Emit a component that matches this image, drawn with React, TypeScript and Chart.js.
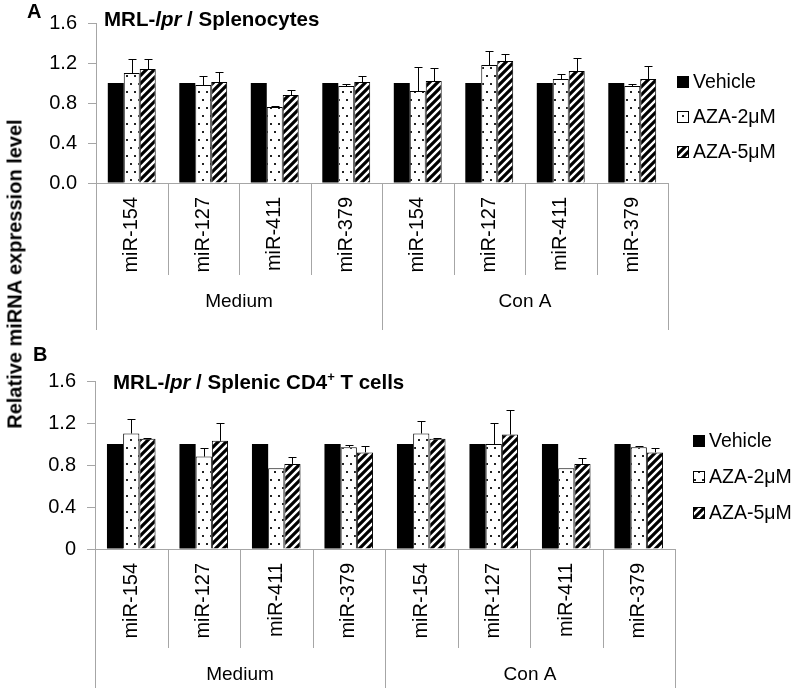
import React, { useEffect, useRef } from "react";
import { Chart, registerables } from "chart.js";

Chart.register(...registerables);

const FONT = '"Liberation Sans", Arial, sans-serif';

// ---------- data ----------
const categories = ["miR-154", "miR-127", "miR-411", "miR-379", "miR-154", "miR-127", "miR-411", "miR-379"];
const groups = ["Medium", "Con A"];
const seriesNames = ["Vehicle", "AZA-2μM", "AZA-5μM"];

// Panel A: MRL-lpr / Splenocytes
const vehicleA = [1, 1, 1, 1, 1, 1, 1, 1];
const aza2A = [1.10, 0.98, 0.76, 0.97, 0.92, 1.18, 1.04, 0.97];
const aza2ErrA = [0.14, 0.09, 0.01, 0.02, 0.24, 0.14, 0.05, 0.02];
const aza5A = [1.14, 1.01, 0.88, 1.01, 1.02, 1.22, 1.12, 1.04];
const aza5ErrA = [0.10, 0.10, 0.05, 0.06, 0.13, 0.07, 0.13, 0.13];
const yTicksA = ["0.0", "0.4", "0.8", "1.2", "1.6"];

// Panel B: MRL-lpr / Splenic CD4+ T cells
const vehicleB = [1, 1, 1, 1, 1, 1, 1, 1];
const aza2B = [1.10, 0.88, 0.77, 0.97, 1.10, 1.00, 0.77, 0.97];
const aza2ErrB = [0.14, 0.08, 0, 0.02, 0.12, 0.20, 0, 0.015];
const aza5B = [1.05, 1.03, 0.81, 0.92, 1.05, 1.09, 0.81, 0.92];
const aza5ErrB = [0.01, 0.17, 0.07, 0.06, 0.01, 0.23, 0.06, 0.04];
const yTicksB = ["0", "0.4", "0.8", "1.2", "1.6"];

const yMax = 1.6;
const yStep = 0.4;

const AXIS_GRAY = "#a6a6a6";

function makeDots(ctx: CanvasRenderingContext2D) {
  const c = document.createElement("canvas");
  c.width = 8;
  c.height = 16;
  const g = c.getContext("2d")!;
  g.fillStyle = "#fff";
  g.fillRect(0, 0, 8, 16);
  g.fillStyle = "#222";
  g.fillRect(2, 3, 2, 2);
  g.fillRect(6, 11, 2, 2);
  return ctx.createPattern(c, "repeat")!;
}

function makeStripes(ctx: CanvasRenderingContext2D) {
  const c = document.createElement("canvas");
  c.width = 8;
  c.height = 8;
  const g = c.getContext("2d")!;
  g.fillStyle = "#fff";
  g.fillRect(0, 0, 8, 8);
  g.strokeStyle = "#000";
  g.lineWidth = 3.2;
  g.beginPath();
  g.moveTo(-2, 10);
  g.lineTo(10, -2);
  g.moveTo(-2, 2);
  g.lineTo(2, -2);
  g.moveTo(6, 10);
  g.lineTo(10, 6);
  g.stroke();
  return ctx.createPattern(c, "repeat")!;
}

type TitlePart = { text: string; italic?: boolean; sup?: boolean };

type PanelProps = {
  top: number;
  height: number;
  padLeft: number;
  padRight: number;
  padTop: number;
  xAxisHeight: number;
  innerLen: number;
  groupLabelOffset: number;
  letter: string;
  letterX: number;
  letterY: number;
  title: TitlePart[];
  titleX: number;
  titleY: number;
  legendX: number;
  legendY: number;
  legendGap: number;
  vehicle: number[];
  aza2: number[];
  aza2Err: number[];
  aza5: number[];
  aza5Err: number[];
  yTicks: string[];
};

function Panel(p: PanelProps) {
  const ref = useRef<HTMLCanvasElement>(null);

  useEffect(() => {
    const canvas = ref.current!;
    const ctx0 = canvas.getContext("2d")!;
    const dots = makeDots(ctx0);
    const stripes = makeStripes(ctx0);
    const fills: (string | CanvasPattern)[] = ["#000", dots, stripes];

    const decor = {
      id: "decor",
      afterDatasetsDraw(chart: any) {
        const ctx = chart.ctx as CanvasRenderingContext2D;
        const ys = chart.scales.y;
        ctx.save();
        ctx.strokeStyle = "#000";
        ctx.lineWidth = 1;
        const sets: [number, number[]][] = [
          [1, p.aza2Err],
          [2, p.aza5Err],
        ];
        sets.forEach(([di, errs]) => {
          const meta = chart.getDatasetMeta(di);
          meta.data.forEach((el: any, i: number) => {
            const v = chart.data.datasets[di].data[i] as number;
            const e = errs[i];
            if (!e) return;
            const x = Math.round(el.x) + 0.5;
            const y0 = ys.getPixelForValue(v);
            const y1 = Math.round(ys.getPixelForValue(v + e)) + 0.5;
            ctx.beginPath();
            ctx.moveTo(x, y0);
            ctx.lineTo(x, y1);
            ctx.moveTo(x - 4, y1);
            ctx.lineTo(x + 4, y1);
            ctx.stroke();
          });
        });
        ctx.restore();
      },
      afterDraw(chart: any) {
        const ctx = chart.ctx as CanvasRenderingContext2D;
        const xs = chart.scales.x;
        const area = chart.chartArea;
        const n = categories.length;
        const per = n / groups.length;
        const step = xs.getPixelForValue(1) - xs.getPixelForValue(0);
        const start = xs.getPixelForValue(0) - step / 2;
        ctx.save();
        // separators
        ctx.strokeStyle = AXIS_GRAY;
        ctx.lineWidth = 1;
        for (let i = 0; i <= n; i++) {
          const px = Math.round(start + i * step) + 0.5;
          const outer = i % per === 0;
          const end = outer ? chart.height : area.bottom + p.innerLen;
          ctx.beginPath();
          ctx.moveTo(px, area.bottom);
          ctx.lineTo(px, end);
          ctx.stroke();
        }
        // group labels
        ctx.fillStyle = "#000";
        ctx.font = `19px ${FONT}`;
        ctx.textAlign = "center";
        ctx.textBaseline = "middle";
        groups.forEach((g, gi) => {
          const cx = start + (gi * per + per / 2) * step;
          ctx.fillText(g, cx, area.bottom + p.groupLabelOffset);
        });
        // panel letter
        ctx.textAlign = "left";
        ctx.font = `bold 20px ${FONT}`;
        ctx.fillText(p.letter, p.letterX, p.letterY);
        // title
        let tx = p.titleX;
        p.title.forEach((part) => {
          if (part.sup) {
            ctx.font = `bold 13px ${FONT}`;
            ctx.fillText(part.text, tx, p.titleY - 6);
          } else {
            ctx.font = `${part.italic ? "italic " : ""}bold 20.5px ${FONT}`;
            ctx.fillText(part.text, tx, p.titleY);
          }
          tx += ctx.measureText(part.text).width;
        });
        // legend
        ctx.font = `19.5px ${FONT}`;
        seriesNames.forEach((name, i) => {
          const cy = p.legendY + i * p.legendGap;
          const bx = p.legendX;
          ctx.fillStyle = fills[i] as any;
          ctx.fillRect(bx, cy - 6, 12, 12);
          ctx.strokeStyle = "#000";
          ctx.strokeRect(bx + 0.5, cy - 5.5, 11, 11);
          ctx.fillStyle = "#000";
          ctx.fillText(name, bx + 16, cy + 1);
        });
        ctx.restore();
      },
    };

    const chart = new Chart(canvas, {
      type: "bar",
      data: {
        labels: categories,
        datasets: [
          { label: seriesNames[0], data: p.vehicle, backgroundColor: "#000", borderColor: "#000", borderWidth: 0 },
          { label: seriesNames[1], data: p.aza2, backgroundColor: dots as any, borderColor: "#000", borderWidth: 1 },
          { label: seriesNames[2], data: p.aza5, backgroundColor: stripes as any, borderColor: "#000", borderWidth: 1 },
        ],
      },
      options: {
        animation: false,
        responsive: false,
        events: [],
        datasets: { bar: { categoryPercentage: 0.67, barPercentage: 1.0 } },
        layout: { padding: { left: p.padLeft, right: p.padRight, top: p.padTop, bottom: 0 } },
        plugins: { legend: { display: false }, tooltip: { enabled: false }, title: { display: false } },
        scales: {
          x: {
            grid: { display: false, drawTicks: false },
            border: { display: true, color: AXIS_GRAY, width: 1 },
            ticks: {
              autoSkip: false,
              minRotation: 90,
              maxRotation: 90,
              padding: 14,
              color: "#000",
              font: { family: FONT, size: 20 },
            },
            afterFit: (s: any) => {
              s.height = p.xAxisHeight;
            },
          },
          y: {
            min: 0,
            max: yMax,
            grid: { display: true, drawOnChartArea: false, drawTicks: true, tickLength: 8, color: AXIS_GRAY },
            border: { display: true, color: AXIS_GRAY, width: 1 },
            ticks: {
              stepSize: yStep,
              padding: 11,
              color: "#000",
              font: { family: FONT, size: 20 },
              callback: (_v: any, i: number) => p.yTicks[i],
            },
            afterFit: (s: any) => {
              s.width = 56;
            },
          },
        },
      },
      plugins: [decor],
    });
    return () => chart.destroy();
  }, []);

  return (
    <canvas
      ref={ref}
      width={796}
      height={p.height}
      style={{ position: "absolute", left: 0, top: p.top, width: 796, height: p.height }}
    />
  );
}

export default function App() {
  useEffect(() => {
    document.body.style.margin = "0";
  }, []);
  return (
    <div style={{ position: "absolute", left: 0, top: 0, width: 796, height: 688, background: "#fff", overflow: "hidden" }}>
      <Panel
        top={0}
        height={330}
        padLeft={40}
        padRight={128}
        padTop={18}
        xAxisHeight={147}
        innerLen={92}
        groupLabelOffset={119}
        letter="A"
        letterX={27}
        letterY={12}
        title={[{ text: "MRL-" }, { text: "lpr", italic: true }, { text: " / Splenocytes" }]}
        titleX={104}
        titleY={20}
        legendX={677}
        legendY={82}
        legendGap={35}
        vehicle={vehicleA}
        aza2={aza2A}
        aza2Err={aza2ErrA}
        aza5={aza5A}
        aza5Err={aza5ErrA}
        yTicks={yTicksA}
      />
      <Panel
        top={340}
        height={348}
        padLeft={39}
        padRight={121}
        padTop={41}
        xAxisHeight={139}
        innerLen={99}
        groupLabelOffset={126}
        letter="B"
        letterX={33}
        letterY={15}
        title={[
          { text: "MRL-" },
          { text: "lpr", italic: true },
          { text: " / Splenic CD4" },
          { text: "+", sup: true },
          { text: " T cells" },
        ]}
        titleX={113}
        titleY={43}
        legendX={693}
        legendY={101}
        legendGap={36}
        vehicle={vehicleB}
        aza2={aza2B}
        aza2Err={aza2ErrB}
        aza5={aza5B}
        aza5Err={aza5ErrB}
        yTicks={yTicksB}
      />
      <div
        style={{
          position: "absolute",
          left: 15,
          top: 274,
          transform: "translate(-50%, -50%) rotate(-90deg)",
          fontFamily: FONT,
          fontWeight: "bold",
          fontSize: 20,
          whiteSpace: "nowrap",
          color: "#000",
        }}
      >
        Relative miRNA expression level
      </div>
    </div>
  );
}
